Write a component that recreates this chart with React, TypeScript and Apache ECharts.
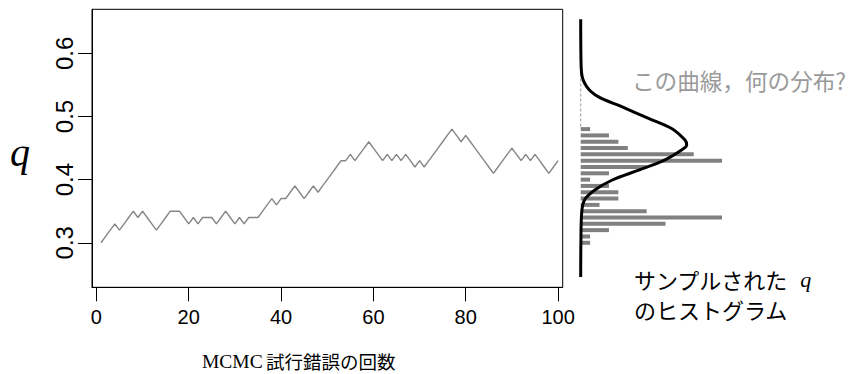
import React, { useEffect, useRef } from "react";
import * as echarts from "echarts";

// MCMC trace: sampled q at each iteration (iteration = index + 1)
const qSamples: number[] = [
  0.30, 0.31, 0.32, 0.33, 0.32, 0.33, 0.34, 0.35, 0.34, 0.35,
  0.34, 0.33, 0.32, 0.33, 0.34, 0.35, 0.35, 0.35, 0.34, 0.33,
  0.34, 0.33, 0.34, 0.34, 0.34, 0.33, 0.34, 0.35, 0.34, 0.33,
  0.34, 0.33, 0.34, 0.34, 0.34, 0.35, 0.36, 0.37, 0.36, 0.37,
  0.37, 0.38, 0.39, 0.38, 0.37, 0.38, 0.39, 0.38, 0.39, 0.40,
  0.41, 0.42, 0.43, 0.43, 0.44, 0.43, 0.44, 0.45, 0.46, 0.45,
  0.44, 0.43, 0.44, 0.43, 0.44, 0.43, 0.44, 0.43, 0.42, 0.43,
  0.42, 0.43, 0.44, 0.45, 0.46, 0.47, 0.48, 0.47, 0.46, 0.47,
  0.46, 0.45, 0.44, 0.43, 0.42, 0.41, 0.42, 0.43, 0.44, 0.45,
  0.44, 0.43, 0.44, 0.43, 0.44, 0.43, 0.42, 0.41, 0.42, 0.43,
];

const xTickValues: number[] = [0, 20, 40, 60, 80, 100];
const yTickValues: number[] = [0.3, 0.4, 0.5, 0.6];

// density curve: q and height (in histogram count units)
const densityQ: number[] = [
  0.654, 0.6, 0.568, 0.547, 0.531, 0.5155, 0.497, 0.481, 0.463, 0.455,
  0.447, 0.431, 0.415, 0.399, 0.3835, 0.368, 0.347, 0.3, 0.246,
];
const densityHeight: number[] = [
  0, 0.02, 0.1, 0.65, 1.9, 4.35, 7.2, 9.65, 11.05, 11.25,
  10.7, 8.9, 6.15, 3.3, 1.5, 0.42, 0.1, 0.02, 0,
];

// dashed baseline segment (q range)
const dashedRange: number[] = [0.568, 0.484];

const xTitleMain = "MCMC";
const xTitleJa = "試行錯誤の回数";
const yTitle = "q";
const questionText = "この曲線，何の分布?";
const histLabel1 = "サンプルされた";
const histLabel2 = "のヒストグラム";

export default function App() {
  const ref = useRef<HTMLDivElement>(null);
  useEffect(() => {
    if (!ref.current) return;
    const chart = echarts.init(ref.current, null, { renderer: "svg" });

    const traceData = qSamples.map((q, i) => [i + 1, q]);
    const counts = new Map<number, number>();
    qSamples.forEach((q) => {
      const k = Math.round(q * 100);
      counts.set(k, (counts.get(k) || 0) + 1);
    });
    const histData = Array.from(counts.entries()).map(([k, c]) => [c, k / 100]);
    const densityData = densityQ.map((q, i) => [densityHeight[i], q]);

    const yMin = 0.2295;
    const yMax = 0.6697;

    chart.setOption({
      animation: false,
      textStyle: { fontFamily: "Liberation Sans" },
      grid: [
        {
          left: 92,
          top: 9.3,
          width: 470.7,
          height: 278,
          show: true,
          borderColor: "#000",
          borderWidth: 1,
          backgroundColor: "transparent",
        },
        { left: 580.7, top: 9.3, width: 188.4, height: 278, show: false },
      ],
      xAxis: [
        {
          gridIndex: 0,
          type: "value",
          min: -0.95,
          max: 101,
          splitLine: { show: false },
          axisLine: { show: true, onZero: false, lineStyle: { color: "#000", width: 1 } },
          axisTick: {
            show: true,
            customValues: xTickValues,
            length: 14,
            lineStyle: { color: "#000", width: 1 },
          },
          axisLabel: {
            customValues: xTickValues,
            fontSize: 20,
            color: "#000",
            margin: 20,
            fontFamily: "Liberation Sans",
          },
        },
        {
          gridIndex: 1,
          type: "value",
          min: 0,
          max: 20,
          show: false,
        },
      ],
      yAxis: [
        {
          gridIndex: 0,
          type: "value",
          min: yMin,
          max: yMax,
          splitLine: { show: false },
          axisLine: { show: true, onZero: false, lineStyle: { color: "#000", width: 1 } },
          axisTick: {
            show: true,
            customValues: yTickValues,
            length: 14,
            lineStyle: { color: "#000", width: 1 },
          },
          axisLabel: {
            customValues: yTickValues,
            rotate: 90,
            fontSize: 24,
            color: "#000",
            margin: 16,
            fontFamily: "Liberation Sans",
            formatter: (v: number) => v.toFixed(1),
          },
        },
        {
          gridIndex: 1,
          type: "value",
          min: yMin,
          max: yMax,
          show: false,
        },
      ],
      series: [
        {
          type: "line",
          xAxisIndex: 0,
          yAxisIndex: 0,
          data: traceData,
          showSymbol: false,
          lineStyle: { color: "#858585", width: 1.4 },
          silent: true,
        },
        {
          type: "custom",
          xAxisIndex: 1,
          yAxisIndex: 1,
          data: histData,
          renderItem: (params: any, api: any) => {
            const c = api.value(0);
            const q = api.value(1);
            const p0 = api.coord([0, q]);
            const p1 = api.coord([c, q]);
            return {
              type: "rect",
              shape: { x: p0[0], y: p0[1] - 2, width: p1[0] - p0[0], height: 4 },
              style: { fill: "#808080" },
            };
          },
          silent: true,
        },
        {
          type: "line",
          xAxisIndex: 1,
          yAxisIndex: 1,
          data: [
            [0, dashedRange[0]],
            [0, dashedRange[1]],
          ],
          showSymbol: false,
          lineStyle: { color: "#999", width: 1, type: [3, 2] },
          silent: true,
        },
        {
          type: "line",
          xAxisIndex: 1,
          yAxisIndex: 1,
          data: densityData,
          showSymbol: false,
          smooth: 0.35,
          lineStyle: { color: "#000", width: 3 },
          silent: true,
        },
      ],
      graphic: [
        {
          type: "text",
          x: 20,
          y: 152,
          style: {
            text: yTitle,
            font: "italic 40px 'Liberation Serif'",
            fill: "#000",
            align: "center",
            verticalAlign: "middle",
          },
        },
        {
          type: "text",
          x: 202,
          y: 361,
          style: {
            text: "{m|" + xTitleMain + "} {j|" + xTitleJa + "}",
            verticalAlign: "middle",
            rich: {
              m: { fontFamily: "Liberation Serif", fontSize: 19.5, fill: "#000" },
              j: { fontFamily: "Noto Sans CJK JP", fontSize: 18.5, fill: "#000" },
            },
          },
        },
        {
          type: "text",
          x: 632,
          y: 80,
          style: {
            text: questionText,
            fontFamily: "Noto Sans CJK JP",
            fontSize: 22.6,
            fill: "#9a9a9a",
            verticalAlign: "middle",
          },
        },
        {
          type: "text",
          x: 634,
          y: 279,
          style: {
            text: "{j|" + histLabel1 + "}  {q|q}",
            fontSize: 22,
            lineHeight: 22,
            verticalAlign: "middle",
            rich: {
              j: { fontFamily: "Noto Sans CJK JP", fontSize: 22, lineHeight: 22, fill: "#000" },
              q: { fontFamily: "Liberation Serif", fontStyle: "italic", fontSize: 22, lineHeight: 22, fill: "#000" },
            },
          },
        },
        {
          type: "text",
          x: 634,
          y: 309,
          style: {
            text: histLabel2,
            fontFamily: "Noto Sans CJK JP",
            fontSize: 22,
            lineHeight: 22,
            fill: "#000",
            verticalAlign: "middle",
          },
        },
      ],
    });
    return () => chart.dispose();
  }, []);
  return (
    <div
      ref={ref}
      style={{ position: "absolute", left: 0, top: 0, width: 852, height: 374, background: "#fff" }}
    />
  );
}
